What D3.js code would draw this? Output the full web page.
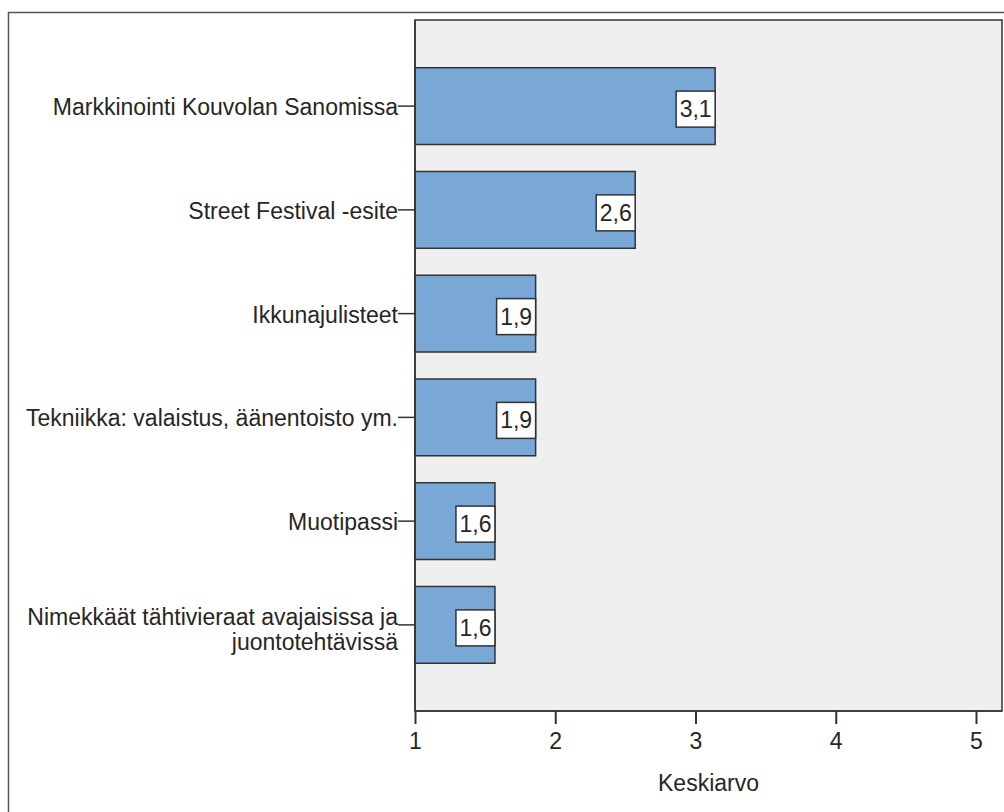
<!DOCTYPE html>
<html><head><meta charset="utf-8">
<script src="https://cdn.jsdelivr.net/npm/d3@7"></script>
<style>body{margin:0;background:#fff}svg{display:block}</style>
</head><body>
<script>
const categories = [
  ["Markkinointi Kouvolan Sanomissa"],
  ["Street Festival -esite"],
  ["Ikkunajulisteet"],
  ["Tekniikka: valaistus, äänentoisto ym."],
  ["Muotipassi"],
  ["Nimekkäät tähtivieraat avajaisissa ja", "juontotehtävissä"]
];
const values = [3.14, 2.57, 1.86, 1.86, 1.57, 1.57];
const tickValues = [1, 2, 3, 4, 5];
const axisTitle = "Keskiarvo";

const W = 1004, H = 812;
const svg = d3.select("body").append("svg").attr("width", W).attr("height", H);
const font = "'Liberation Sans', Arial, sans-serif";
const fs = 23;
const ink = "#262626";

// outer frame
svg.append("rect").attr("x", 8.5).attr("y", 12.5).attr("width", 1010).attr("height", 820)
  .attr("fill", "#fff").attr("stroke", "#555").attr("stroke-width", 1.5);

const plotL = 415, plotT = 20, plotR = 1002, plotB = 711;
svg.append("rect").attr("x", plotL).attr("y", plotT).attr("width", plotR - plotL).attr("height", plotB - plotT)
  .attr("fill", "#efefef").attr("stroke", "#333").attr("stroke-width", 1.5);

const x = d3.scaleLinear().domain([1, 5]).range([415, 976]);
const ids = categories.map((c, i) => i);
const y = d3.scaleBand().domain(ids).range([plotT, plotB]).paddingInner(0.26).paddingOuter(0.46);

// bars
svg.selectAll("rect.bar").data(values).join("rect").attr("class", "bar")
  .attr("x", x(1)).attr("y", (d, i) => y(i)).attr("width", d => x(d) - x(1)).attr("height", y.bandwidth())
  .attr("fill", "#79a8d6").attr("stroke", "#333").attr("stroke-width", 1.5);

// value labels
const fmt = d => d3.format(".1f")(d).replace(".", ",");
const lg = svg.selectAll("g.vl").data(values).join("g").attr("class", "vl")
  .attr("transform", (d, i) => `translate(${x(d)},${y(i) + y.bandwidth() / 2 + 3})`);
lg.append("rect").attr("x", -39).attr("y", -18).attr("width", 39).attr("height", 36)
  .attr("fill", "#fff").attr("stroke", "#333").attr("stroke-width", 1.5);
lg.append("text").attr("x", -19.5).attr("y", 8).attr("text-anchor", "middle")
  .attr("font-family", font).attr("font-size", fs).attr("fill", ink).text(fmt);

// left axis line & ticks
svg.append("line").attr("x1", plotL).attr("x2", plotL).attr("y1", plotT).attr("y2", plotB).attr("stroke", "#333").attr("stroke-width", 1.5);
const cg = svg.selectAll("g.cat").data(categories).join("g").attr("class", "cat")
  .attr("transform", (d, i) => `translate(0,${y(i) + y.bandwidth() / 2})`);
cg.append("line").attr("x1", 398).attr("x2", plotL).attr("stroke", "#333").attr("stroke-width", 1.5);
cg.each(function(lines) {
  const g = d3.select(this);
  const n = lines.length;
  lines.forEach((t, k) => {
    const yy = n > 1 ? k * 25 : 9;
    g.append("text").attr("x", 398).attr("y", yy)
      .attr("text-anchor", "end").attr("font-family", font).attr("font-size", fs).attr("fill", ink).text(t);
  });
});

// bottom axis
const xa = d3.axisBottom(x).tickValues(tickValues).tickSize(13).tickPadding(6).tickFormat(d3.format("d"));
const ag = svg.append("g").attr("transform", `translate(0,${plotB})`).call(xa);
ag.select(".domain").attr("d", `M${plotL},0H${plotR}`).attr("stroke", "#333").attr("stroke-width", 1.5);
ag.selectAll(".tick line").attr("stroke", "#333").attr("stroke-width", 2);
ag.selectAll(".tick text").attr("font-family", font).attr("font-size", fs).attr("fill", ink)
  .attr("dy", null).attr("y", 38);

svg.append("text").attr("x", (plotL + plotR) / 2).attr("y", 791).attr("text-anchor", "middle")
  .attr("font-family", font).attr("font-size", fs).attr("fill", ink).text(axisTitle);
</script>
</body></html>
